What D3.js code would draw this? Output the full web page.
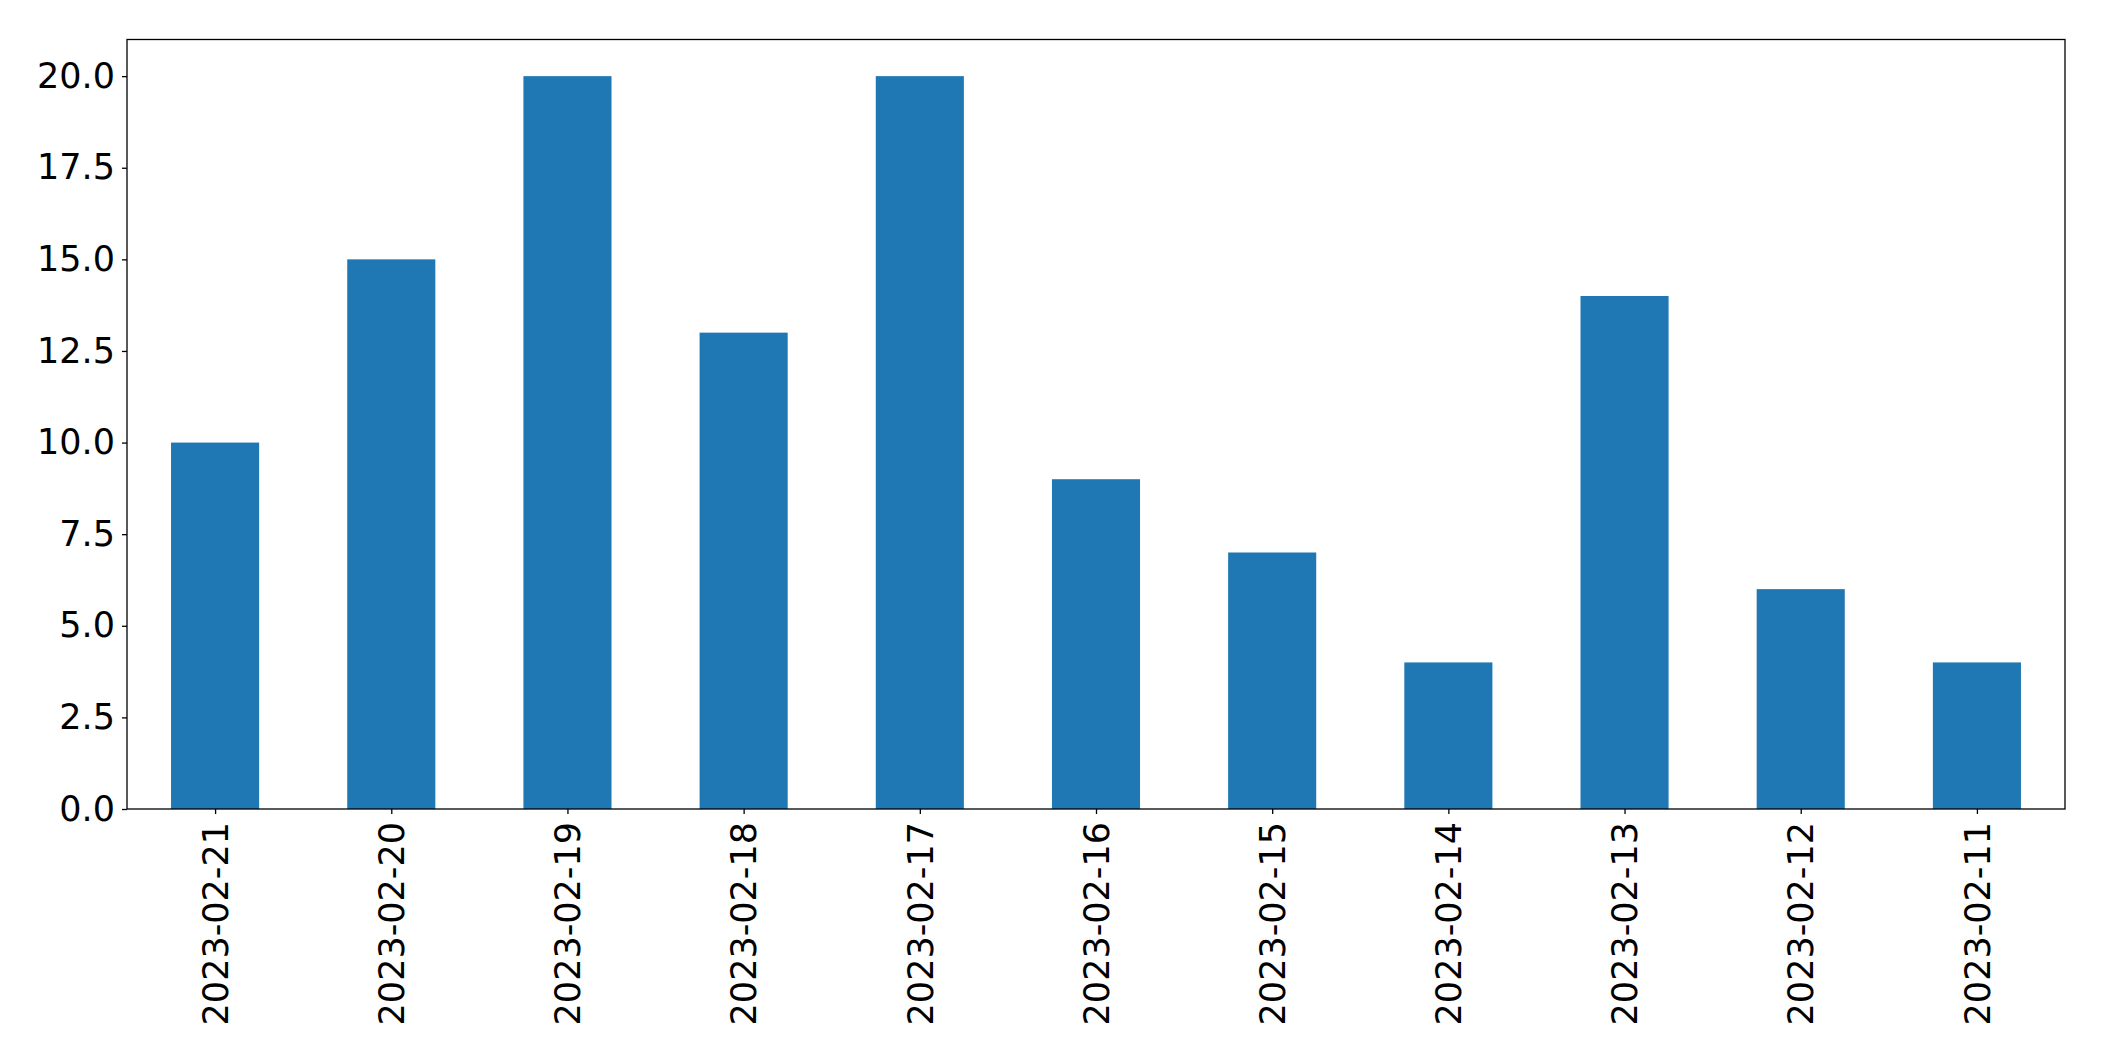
<!DOCTYPE html>
<html><head><meta charset="utf-8">
<script src="https://cdn.jsdelivr.net/npm/d3@7"></script>
<style>body{margin:0;background:#fff;}svg{display:block;}</style>
</head><body>
<script>
const categories = ["2023-02-21","2023-02-20","2023-02-19","2023-02-18","2023-02-17","2023-02-16","2023-02-15","2023-02-14","2023-02-13","2023-02-12","2023-02-11"];
const values = [10,15,20,13,20,9,7,4,14,6,4];
const yTicks = [0,2.5,5,7.5,10,12.5,15,17.5,20];

const W = 2104, H = 1061;
const m = {left:127, right:2065, top:39.5, bottom:809};
const fontSize = 35;
const svg = d3.select("body").append("svg").attr("width",W).attr("height",H)
  .style("font-family","DejaVu Sans");

const x = d3.scaleLinear().domain([-0.5, categories.length-0.5]).range([m.left,m.right]);
const y = d3.scaleLinear().domain([0,21]).range([m.bottom,m.top]);

svg.selectAll("rect.bar").data(values).enter().append("rect")
  .attr("class","bar")
  .attr("x",(d,i)=>x(i-0.25)).attr("width",(d,i)=>x(i+0.25)-x(i-0.25))
  .attr("y",d=>y(d)).attr("height",d=>y(0)-y(d))
  .attr("fill","#1f77b4");

const yAxis = d3.axisLeft(y).tickValues(yTicks).tickFormat(d3.format(".1f")).tickSize(5).tickPadding(7);
const gy = svg.append("g").attr("transform",`translate(${m.left},0)`).call(yAxis);
gy.select(".domain").remove();
gy.selectAll("text").attr("font-size",fontSize).attr("font-family","DejaVu Sans").attr("fill","#000");
gy.selectAll("line").attr("stroke","#000").attr("stroke-width",1.3);

const xAxis = d3.axisBottom(x).tickValues(d3.range(categories.length)).tickFormat(i=>categories[i]).tickSize(5).tickPadding(7);
const gx = svg.append("g").attr("transform",`translate(0,${m.bottom})`).call(xAxis);
gx.select(".domain").remove();
gx.selectAll("line").attr("stroke","#000").attr("stroke-width",1.3);
gx.selectAll("text").attr("font-size",fontSize).attr("font-family","DejaVu Sans").attr("fill","#000")
  .attr("transform","rotate(-90)").attr("text-anchor","end").attr("dy","0.35em")
  .attr("x",-13).attr("y",0);

svg.append("rect").attr("x",m.left).attr("y",m.top).attr("width",m.right-m.left).attr("height",m.bottom-m.top)
  .attr("fill","none").attr("stroke","#000").attr("stroke-width",1.3);
</script>
</body></html>
